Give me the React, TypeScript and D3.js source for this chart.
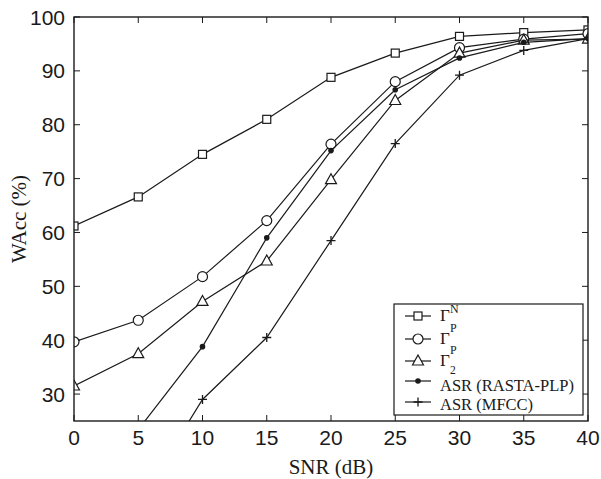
import React from 'react';
import * as d3 from 'd3';

// SNR levels (dB)
const snr = [0, 5, 10, 15, 20, 25, 30, 35, 40];

// word accuracy (%) per system
const gammaPN = [61.2, 66.6, 74.5, 81.0, 88.8, 93.3, 96.4, 97.1, 97.6];
const gammaP = [39.7, 43.7, 51.8, 62.2, 76.4, 88.0, 94.3, 95.9, 96.9];
const gamma2 = [31.5, 37.5, 47.2, 54.7, 69.8, 84.5, 93.3, 95.7, 95.9];
const rastaSnr = [5, 10, 15, 20, 25, 30, 35, 40];
const rasta = [23.4, 38.8, 59.0, 75.2, 86.5, 92.4, 95.3, 96.0];
const mfccSnr = [5, 10, 15, 20, 25, 30, 35, 40];
const mfcc = [9.7, 29.0, 40.5, 58.5, 76.5, 89.2, 93.8, 96.0];

const xTicks = [0, 5, 10, 15, 20, 25, 30, 35, 40];
const yTicks = [30, 40, 50, 60, 70, 80, 90, 100];

const W = 601;
const H = 479;
const left = 74, right = 588, top = 17, bottom = 421;
const ink = '#1a1a1a';

const x = d3.scaleLinear().domain([0, 40]).range([left, right]);
const y = d3.scaleLinear().domain([25, 100]).range([bottom, top]);

type Marker = 'square' | 'circle' | 'triangle' | 'dot' | 'plus';

const Mark = ({ type, cx, cy }: { type: Marker; cx: number; cy: number }) => {
  switch (type) {
    case 'square':
      return <rect x={cx - 4} y={cy - 4} width={8} height={8} fill="white" stroke={ink} strokeWidth={1.2} />;
    case 'circle':
      return <circle cx={cx} cy={cy} r={5} fill="white" stroke={ink} strokeWidth={1.2} />;
    case 'triangle':
      return <path d={`M${cx},${cy - 6}L${cx + 5.5},${cy + 4}L${cx - 5.5},${cy + 4}Z`} fill="white" stroke={ink} strokeWidth={1.2} />;
    case 'dot':
      return <circle cx={cx} cy={cy} r={2.8} fill={ink} />;
    default:
      return <path d={`M${cx - 4.5},${cy}H${cx + 4.5}M${cx},${cy - 4.5}V${cy + 4.5}`} stroke={ink} strokeWidth={1.3} />;
  }
};

const series: { xs: number[]; ys: number[]; marker: Marker }[] = [
  { xs: snr, ys: gammaPN, marker: 'square' },
  { xs: snr, ys: gammaP, marker: 'circle' },
  { xs: snr, ys: gamma2, marker: 'triangle' },
  { xs: rastaSnr, ys: rasta, marker: 'dot' },
  { xs: mfccSnr, ys: mfcc, marker: 'plus' },
];

const line = d3.line<[number, number]>().x(d => x(d[0])).y(d => y(d[1]));

export default function App() {
  const serif = '"Liberation Serif", "DejaVu Serif", serif';
  const sans = '"Liberation Sans", Arial, sans-serif';
  const legendRows = [316, 339, 361, 381, 402];
  const lx1 = 405, lx2 = 431, tx = 440;

  return (
    <svg width={W} height={H} style={{ position: 'absolute', left: 0, top: 0, background: 'white' }}>
      <defs>
        <clipPath id="plot">
          <rect x={left} y={top} width={right - left} height={bottom - top} />
        </clipPath>
      </defs>

      {/* ticks, inward on all four sides */}
      {xTicks.map(t => (
        <g key={'x' + t}>
          <line x1={x(t)} x2={x(t)} y1={bottom} y2={bottom - 6} stroke={ink} strokeWidth={1} />
          <line x1={x(t)} x2={x(t)} y1={top} y2={top + 6} stroke={ink} strokeWidth={1} />
          <text x={x(t)} y={445} textAnchor="middle" fontFamily={sans} fontSize={21} fill={ink}>{t}</text>
        </g>
      ))}
      {yTicks.map(t => (
        <g key={'y' + t}>
          <line x1={left} x2={left + 6} y1={y(t)} y2={y(t)} stroke={ink} strokeWidth={1} />
          <line x1={right} x2={right - 6} y1={y(t)} y2={y(t)} stroke={ink} strokeWidth={1} />
          <text x={65} y={y(t)} dy="0.36em" textAnchor="end" fontFamily={sans} fontSize={21} fill={ink}>{t}</text>
        </g>
      ))}

      <g clipPath="url(#plot)">
        {series.map((s, i) => {
          const pts = s.xs.map((v, j) => [v, s.ys[j]] as [number, number]);
          return (
            <g key={i}>
              <path d={line(pts) ?? ''} fill="none" stroke={ink} strokeWidth={1.2} />
              {pts.map((p, j) => <Mark key={j} type={s.marker} cx={x(p[0])} cy={y(p[1])} />)}
            </g>
          );
        })}
      </g>

      <rect x={left} y={top} width={right - left} height={bottom - top} fill="none" stroke={ink} strokeWidth={1.4} />

      {/* legend */}
      <rect x={394} y={304} width={189} height={111} fill="white" stroke={ink} strokeWidth={1.2} />
      {series.map((s, i) => (
        <g key={'l' + i}>
          <line x1={lx1} x2={lx2} y1={legendRows[i]} y2={legendRows[i]} stroke={ink} strokeWidth={1.2} />
          <Mark type={s.marker} cx={(lx1 + lx2) / 2} cy={legendRows[i]} />
        </g>
      ))}
      <g fontFamily={serif} fill={ink}>
        <text x={tx} y={321} fontSize={17}>Γ</text>
        <text x={tx + 10} y={313} fontSize={12}>N</text>
        <text x={tx + 10} y={332} fontSize={12}>P</text>
        <text x={tx} y={344} fontSize={17}>Γ</text>
        <text x={tx + 10} y={354} fontSize={12}>P</text>
        <text x={tx} y={366} fontSize={17}>Γ</text>
        <text x={tx + 10} y={373.5} fontSize={11.5}>2</text>
        <text x={tx} y={391} fontSize={16.5}>ASR (RASTA-PLP)</text>
        <text x={tx} y={410} fontSize={16.5}>ASR (MFCC)</text>
      </g>

      {/* axis titles */}
      <text x={(left + right) / 2} y={474} textAnchor="middle" fontFamily={serif} fontSize={21} fill={ink}>SNR (dB)</text>
      <text transform={`translate(26, ${(top + bottom) / 2}) rotate(-90)`} textAnchor="middle" fontFamily={serif} fontSize={21} fill={ink}>WAcc (%)</text>
    </svg>
  );
}
